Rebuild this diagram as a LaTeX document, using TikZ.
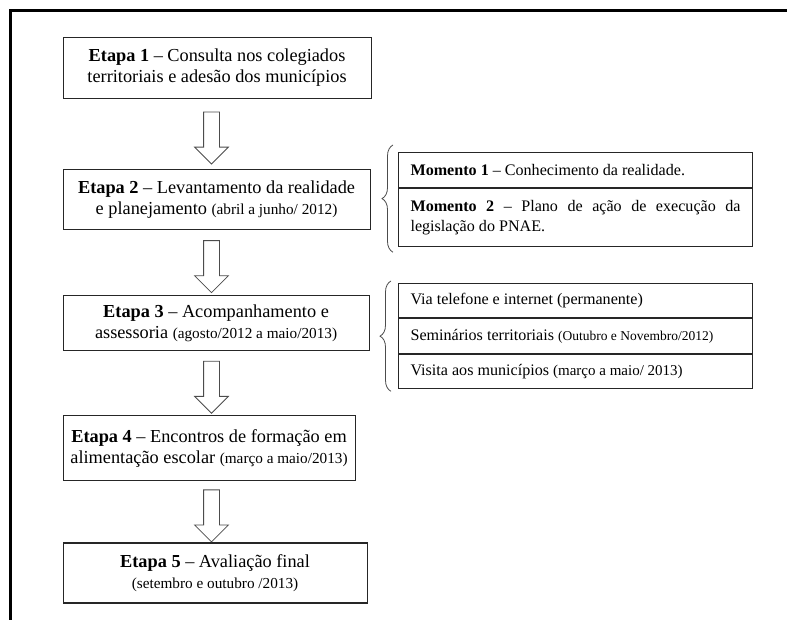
\documentclass[tikz,border=0pt]{standalone}
\usepackage{fontspec}
\setmainfont{Liberation Serif}
\usetikzlibrary{positioning, calc, shapes.arrows, decorations.pathreplacing}
\tikzset{
    etapa/.style={rectangle, draw=black!85, line width=1.1pt, align=center, minimum width=307pt, minimum height=60pt, inner sep=0pt, font=\fontsize{18.3}{21}\selectfont},
    passo/.style={rectangle, draw=black!85, line width=1.1pt, text width=330pt, inner xsep=12pt, inner ysep=0pt, align=flush left, font=\fontsize{16.1}{20}\selectfont},
    blockarrow/.style={single arrow, draw=black!70, fill=white, line width=0.8pt, shape border rotate=270, minimum height=52pt, minimum width=33pt, inner sep=7.5pt, single arrow head extend=9pt, single arrow tip angle=90, single arrow head indent=0pt},
    chave/.style={decorate, decoration={brace, amplitude=11pt}, draw=black!70, line width=0.8pt},
    moldura/.style={line width=3pt, black}
}
\newcommand{\datas}[1]{{\fontsize{15.25}{18}\selectfont #1}}

\begin{document}
\begin{tikzpicture}[x=1pt, y=-1pt]

    \useasboundingbox (0,0) rectangle (787,620);
    \draw [moldura] (10.5,620) -- (10.5,10.5) -- (787,10.5);

    % etapas
    \node (e1) [etapa, minimum width=308pt, minimum height=61pt, anchor=north west] at (62.5,37) {\textbf{Etapa 1} -- Consulta nos colegiados\\territoriais e adesão dos municípios};
    \node (e2) [etapa, below=70pt of e1.south west, anchor=north west] {\textbf{Etapa 2} -- Levantamento da realidade\\e planejamento \datas{(abril a junho/ 2012)}};
    \node (e3) [etapa, minimum width=306pt, minimum height=55pt, below=65pt of e2.south west, anchor=north west] {\textbf{Etapa 3} -- Acompanhamento e\\assessoria \datas{(agosto/2012 a maio/2013)}};
    \node (e4) [etapa, minimum width=292pt, minimum height=65pt, below=64pt of e3.south west, anchor=north west] {\textbf{Etapa 4} -- Encontros de formação em\\alimentação escolar \datas{(março a maio/2013)}};
    \node (e5) [etapa, minimum width=304pt, below=61pt of e4.south west, anchor=north west] {\textbf{Etapa 5} -- Avaliação final\\\datas{(setembro e outubro /2013)}};

    % setas
    \node (s12) [blockarrow] at ($(e1.south west)!.5!(e2.north west)+(149,0)$) {};
    \node (s23) [blockarrow] at ($(e2.south west)!.5!(e3.north west)+(149,0)$) {};
    \node (s34) [blockarrow] at ($(e3.south west)!.5!(e4.north west)+(149,0)$) {};
    \node (s45) [blockarrow] at ($(e4.south west)!.5!(e5.north west)+(149,0)$) {};

    % momentos da etapa 2
    \node (m1) [passo, minimum height=35pt, anchor=north west] at (398,152) {\textbf{Momento 1} -- Conhecimento da realidade.};
    \node (m2) [passo, minimum height=58pt, align=justify, below=0pt of m1.south west, anchor=north west] {\textbf{Momento 2} -- Plano de ação de execução da\linebreak legislação do PNAE.};

    % atividades da etapa 3
    \node (v1) [passo, minimum height=34pt, anchor=north west] at (398,283) {Via telefone e internet (permanente)};
    \node (v2) [passo, minimum height=35pt, below=0pt of v1.south west, anchor=north west] {Seminários territoriais {\fontsize{13.5}{16}\selectfont (Outubro e Novembro/2012)}};
    \node (v3) [passo, minimum height=34pt, below=0pt of v2.south west, anchor=north west] {Visita aos municípios {\fontsize{15}{18}\selectfont (março a maio/ 2013)}};

    \draw [chave] ($(m2.south west)+(-5,5)$) -- ($(m1.north west)+(-5,-7)$);
    \draw [chave] ($(v3.south west)+(-7,2)$) -- ($(v1.north west)+(-7,-2)$);

\end{tikzpicture}
\end{document}
